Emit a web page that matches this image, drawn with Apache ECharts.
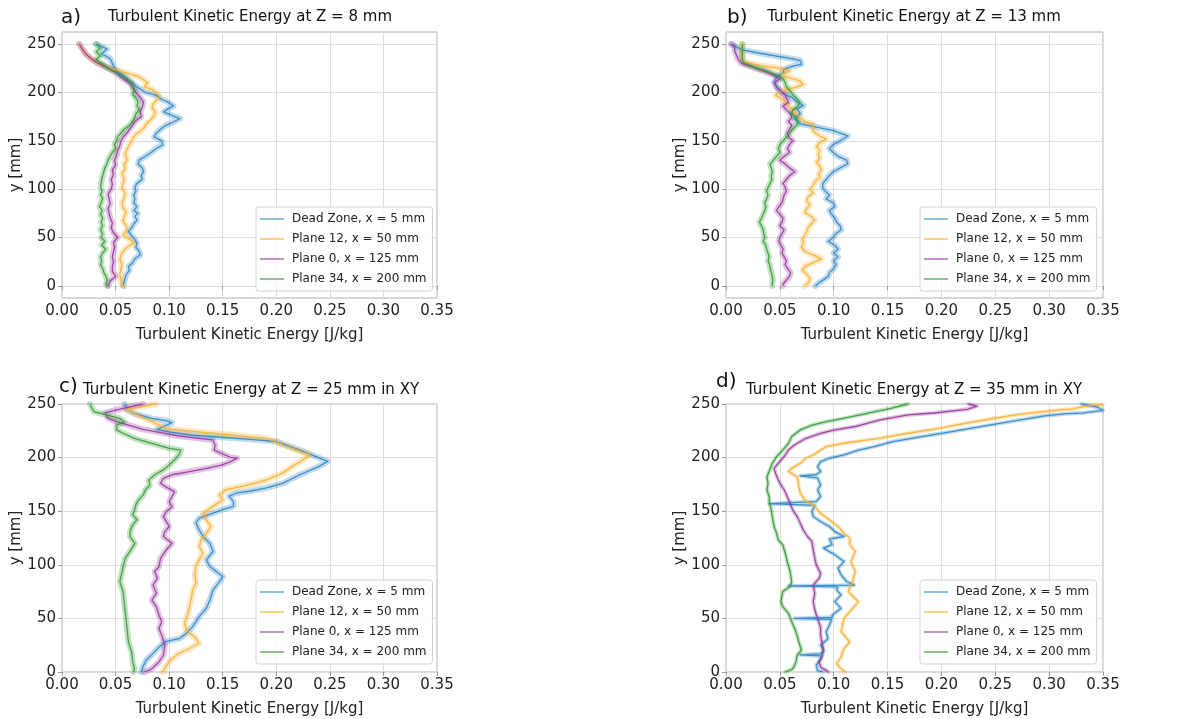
<!DOCTYPE html>
<html><head><meta charset="utf-8">
<script src="https://cdn.jsdelivr.net/npm/echarts@6/dist/echarts.min.js"></script>
<style>html,body{margin:0;padding:0;background:#fff}#c{width:1199px;height:719px}</style>
</head><body><div id="c"></div>
<script>
// ---------- DATA ----------
const seriesNames = ['Dead Zone, x = 5 mm', 'Plane 12, x = 50 mm', 'Plane 0, x = 125 mm', 'Plane 34, x = 200 mm'];
const panelLetters = ['a)', 'b)', 'c)', 'd)'];
const panelTitles = ['Turbulent Kinetic Energy at Z = 8 mm', 'Turbulent Kinetic Energy at Z = 13 mm',
  'Turbulent Kinetic Energy at Z = 25 mm in XY', 'Turbulent Kinetic Energy at Z = 35 mm in XY'];
const xAxisName = 'Turbulent Kinetic Energy [J/kg]';
const yAxisName = 'y [mm]';
const yTicks = [0, 50, 100, 150, 200, 250];

// each point: [TKE J/kg, y mm]
const aDead = [[0.032,250],[0.042,245],[0.037,240],[0.045,235],[0.047,230],[0.049,225],[0.054,220],[0.060,215],[0.065,210],[0.071,205],[0.078,200],[0.088,197],[0.093,193],[0.099,190],[0.104,186],[0.099,183],[0.095,180],[0.101,177],[0.110,173],[0.105,170],[0.097,166],[0.092,162],[0.088,158],[0.086,154],[0.093,150],[0.094,146],[0.088,142],[0.083,138],[0.078,134],[0.072,130],[0.071,126],[0.075,122],[0.076,118],[0.074,114],[0.075,110],[0.070,106],[0.068,102],[0.069,98],[0.067,94],[0.068,90],[0.067,86],[0.070,82],[0.067,78],[0.071,75],[0.068,72],[0.070,68],[0.067,64],[0.065,60],[0.062,56],[0.065,52],[0.068,48],[0.070,44],[0.069,40],[0.072,36],[0.073,32],[0.068,28],[0.066,24],[0.062,20],[0.063,16],[0.060,12],[0.059,8],[0.058,4],[0.057,0]];
const aPlane12 = [[0.016,250],[0.019,245],[0.022,240],[0.027,235],[0.033,230],[0.045,225],[0.058,221],[0.070,217],[0.075,214],[0.080,210],[0.077,206],[0.084,203],[0.088,200],[0.091,196],[0.088,192],[0.085,188],[0.084,184],[0.087,180],[0.086,176],[0.083,172],[0.080,169],[0.076,163],[0.072,159],[0.068,156],[0.065,150],[0.063,146],[0.061,142],[0.059,136],[0.061,130],[0.058,126],[0.059,121],[0.056,116],[0.058,111],[0.057,106],[0.056,101],[0.059,96],[0.058,91],[0.056,86],[0.057,81],[0.060,76],[0.058,72],[0.057,67],[0.060,62],[0.061,58],[0.057,53],[0.062,49],[0.067,45],[0.062,41],[0.058,37],[0.055,32],[0.054,27],[0.056,22],[0.055,17],[0.054,12],[0.055,7],[0.055,3],[0.058,0]];
const aPlane0 = [[0.016,250],[0.019,245],[0.022,240],[0.027,235],[0.034,230],[0.043,225],[0.051,220],[0.056,215],[0.060,212],[0.065,208],[0.066,205],[0.069,200],[0.073,195],[0.076,190],[0.075,185],[0.073,180],[0.074,175],[0.068,170],[0.065,165],[0.062,160],[0.058,155],[0.055,150],[0.054,145],[0.052,140],[0.051,135],[0.049,130],[0.050,125],[0.047,120],[0.048,115],[0.046,110],[0.047,105],[0.046,100],[0.043,95],[0.044,90],[0.045,85],[0.043,80],[0.044,75],[0.045,70],[0.047,65],[0.046,60],[0.048,55],[0.052,50],[0.048,45],[0.049,40],[0.048,35],[0.047,30],[0.048,25],[0.047,20],[0.047,15],[0.050,10],[0.045,5],[0.043,0]];
const aPlane34 = [[0.032,250],[0.0355,246],[0.032,242],[0.0355,238],[0.032,234],[0.037,230],[0.042,226],[0.049,222],[0.055,218],[0.060,214],[0.065,210],[0.066,206],[0.068,202],[0.066,198],[0.069,194],[0.071,190],[0.070,186],[0.072,182],[0.069,178],[0.068,174],[0.066,170],[0.063,166],[0.058,162],[0.055,158],[0.052,154],[0.051,150],[0.049,146],[0.050,142],[0.047,138],[0.045,134],[0.043,130],[0.042,126],[0.040,122],[0.039,118],[0.038,114],[0.037,110],[0.0365,106],[0.036,102],[0.0375,98],[0.036,94],[0.038,90],[0.0365,86],[0.035,82],[0.0375,78],[0.036,74],[0.038,70],[0.0365,66],[0.038,62],[0.036,58],[0.038,54],[0.0365,50],[0.040,46],[0.037,42],[0.041,38],[0.038,34],[0.036,30],[0.037,26],[0.036,22],[0.038,18],[0.039,14],[0.041,10],[0.042,6],[0.041,2],[0.042,0]];

const bDead = [[0.005,250],[0.015,244],[0.034,240],[0.061,235],[0.069,233],[0.070,229],[0.061,227],[0.053,223.5],[0.054,221],[0.047,216],[0.045,210.5],[0.047,205],[0.053,198.5],[0.061,195],[0.066,190],[0.072,186.5],[0.066,183],[0.069,178],[0.0635,172.7],[0.069,167.6],[0.085,164],[0.099,160.7],[0.113,155],[0.106,150],[0.0995,146],[0.096,142],[0.0995,138],[0.104,134],[0.112,130],[0.113,126],[0.106,122],[0.0995,118],[0.096,114],[0.093,110],[0.090,106],[0.0896,102],[0.092,98],[0.096,94],[0.093,90],[0.0995,86],[0.101,82],[0.096,78],[0.098,74],[0.101,70],[0.1026,66],[0.106,62],[0.107,58],[0.102,54],[0.0995,50],[0.095,46],[0.101,42],[0.104,38],[0.100,34],[0.104,30],[0.100,26],[0.102,22],[0.100,18],[0.096,14],[0.095,10],[0.090,6],[0.086,3],[0.083,0]];
const bPlane12 = [[0.0145,250],[0.0145,244],[0.015,238],[0.016,232],[0.0315,228],[0.050,225],[0.059,222],[0.0516,219],[0.056,216],[0.0686,212],[0.0717,208],[0.064,205],[0.056,203],[0.0485,200],[0.046,197],[0.0516,194],[0.055,190],[0.058,186],[0.062,182],[0.065,178],[0.0686,174],[0.073,170],[0.081,167],[0.081,160],[0.087,155],[0.093,152],[0.087,148],[0.084,144],[0.087,140],[0.0856,136],[0.087,132],[0.084,128],[0.087,124],[0.0887,120],[0.086,116],[0.087,112],[0.0825,108],[0.081,104],[0.078,100],[0.081,96],[0.076,92],[0.075,88],[0.078,84],[0.075,80],[0.073,76],[0.079,72],[0.0825,68],[0.079,64],[0.076,60],[0.075,56],[0.073,52],[0.071,48],[0.072,44],[0.070,40],[0.073,36],[0.081,32],[0.0887,28],[0.081,24],[0.073,20],[0.071,16],[0.075,12],[0.078,8],[0.077,4],[0.073,0]];
const bPlane0 = [[0.005,250],[0.008,247],[0.008,243],[0.010,238],[0.0114,234],[0.0145,230],[0.025,226],[0.035,222],[0.044,218],[0.050,214],[0.045,210],[0.047,206],[0.050,202],[0.055,198],[0.056,194],[0.058,190],[0.053,186],[0.056,182],[0.060,178],[0.061,174],[0.058,170],[0.061,166],[0.059,162],[0.057,158],[0.058,154],[0.062,150],[0.059,146],[0.057,142],[0.059,138],[0.054,134],[0.050,130],[0.055,126],[0.059,122],[0.064,118],[0.059,114],[0.056,110],[0.053,106],[0.055,102],[0.056,98],[0.054,94],[0.053,90],[0.052,86],[0.049,82],[0.047,78],[0.050,74],[0.053,70],[0.052,66],[0.050,62],[0.054,58],[0.052,54],[0.050,50],[0.049,46],[0.051,42],[0.053,38],[0.052,34],[0.054,30],[0.056,26],[0.055,22],[0.057,18],[0.060,14],[0.059,10],[0.056,6],[0.053,2],[0.053,0]];
const bPlane34 = [[0.0155,250],[0.015,244],[0.015,238],[0.0155,232],[0.0176,230],[0.027,226],[0.038,222],[0.047,218],[0.053,214],[0.055,210],[0.056,206],[0.059,202],[0.062,198],[0.0655,194],[0.0686,190],[0.067,186],[0.062,182],[0.061,178],[0.0655,174],[0.067,170],[0.0655,166],[0.062,162],[0.059,158],[0.056,154],[0.053,150],[0.050,146],[0.0485,142],[0.050,138],[0.047,134],[0.044,130],[0.041,126],[0.042,122],[0.043,118],[0.042,114],[0.0425,110],[0.041,106],[0.039,102],[0.0377,98],[0.039,94],[0.0377,90],[0.036,86],[0.037,82],[0.036,78],[0.0346,74],[0.033,70],[0.031,66],[0.033,62],[0.0346,58],[0.035,54],[0.036,50],[0.0346,46],[0.037,42],[0.0377,38],[0.039,34],[0.040,30],[0.039,26],[0.0405,22],[0.041,18],[0.042,14],[0.043,10],[0.0435,6],[0.043,2],[0.043,0]];

const cDead = [[0.0585,250],[0.061,244.4],[0.0676,241],[0.0838,236.6],[0.097,234.5],[0.1027,232.6],[0.0946,229],[0.089,226.4],[0.100,224],[0.1216,221],[0.1486,219],[0.1757,217],[0.200,215],[0.209,211.7],[0.222,207],[0.237,201],[0.248,196.5],[0.240,191.8],[0.222,184],[0.206,176],[0.190,171.6],[0.175,168.6],[0.163,167],[0.156,164],[0.160,159],[0.160,154.5],[0.150,151.4],[0.141,148.3],[0.128,143.5],[0.125,139],[0.128,132.6],[0.1316,126.4],[0.138,120],[0.141,112.4],[0.1347,104.6],[0.138,98.4],[0.150,89],[0.147,84.4],[0.141,76.6],[0.138,67.2],[0.1347,59.5],[0.128,51.7],[0.122,42.3],[0.116,36],[0.110,31.4],[0.097,28.3],[0.091,23.7],[0.085,17.4],[0.0787,11.2],[0.0756,5],[0.074,0]];
const cPlane12 = [[0.088,250],[0.060,245],[0.070,240],[0.082,234.6],[0.088,231.5],[0.097,227],[0.128,224],[0.160,221],[0.190,218],[0.200,215],[0.209,210.6],[0.222,206],[0.231,203],[0.225,198],[0.215,191.8],[0.206,185.5],[0.190,179],[0.175,174.7],[0.153,170],[0.147,165],[0.150,160.7],[0.141,154.5],[0.1316,148],[0.1347,142],[0.139,135.7],[0.1347,129.5],[0.130,123.3],[0.128,117],[0.1316,110.8],[0.128,104.6],[0.125,98.4],[0.124,90.6],[0.125,82.8],[0.122,76.6],[0.121,70.4],[0.119,61],[0.1176,54.8],[0.1145,45.5],[0.116,39],[0.125,31.4],[0.128,26.8],[0.116,20.5],[0.1067,15.9],[0.100,9.7],[0.0958,3.4],[0.094,0]];
const cPlane0 = [[0.0757,250],[0.057,246],[0.0405,242],[0.043,236.6],[0.051,233.5],[0.062,230.4],[0.0757,226.4],[0.092,223.3],[0.108,220.2],[0.127,218],[0.1405,216.5],[0.143,211.8],[0.142,207],[0.1486,204],[0.157,200.3],[0.1635,199.4],[0.157,196],[0.1486,193],[0.135,190],[0.119,187],[0.1027,184],[0.0946,180.7],[0.092,176],[0.0973,172.4],[0.105,168.3],[0.1027,163.7],[0.100,159],[0.1027,154],[0.0973,149.7],[0.0946,145],[0.0973,140.4],[0.100,135.7],[0.096,131],[0.0946,126.4],[0.1027,120],[0.0973,114],[0.092,106],[0.0905,98.4],[0.0865,93.75],[0.089,87.5],[0.085,81],[0.088,73.4],[0.0838,67],[0.088,61],[0.0905,53],[0.093,47],[0.0905,40.6],[0.093,34.4],[0.096,25],[0.0946,15.6],[0.0905,9.4],[0.0838,3],[0.077,0]];
const cPlane34 = [[0.026,250],[0.0297,243],[0.0405,240],[0.054,236.6],[0.058,233.5],[0.0514,230.4],[0.051,225.8],[0.057,222.7],[0.0676,218],[0.078,215],[0.089,211.8],[0.100,208.7],[0.111,207],[0.109,202.5],[0.105,197.8],[0.100,193],[0.0946,188.5],[0.0865,184],[0.081,179],[0.082,174.5],[0.078,170],[0.0757,165],[0.0716,160.6],[0.069,156],[0.0676,151],[0.066,146.6],[0.070,142],[0.066,137.3],[0.0635,131],[0.0635,126.4],[0.068,120],[0.0635,112.5],[0.059,106],[0.057,98.4],[0.0554,90.6],[0.054,84.4],[0.057,75],[0.058,65.6],[0.059,56],[0.060,47],[0.061,37.5],[0.062,28],[0.065,18.75],[0.066,9.4],[0.0676,3],[0.067,0]];

const dDead = [[0.33,250],[0.345,247],[0.35,244],[0.33,241.5],[0.316,241],[0.296,239],[0.2635,233.5],[0.2365,228.9],[0.2095,224.2],[0.182,219.6],[0.155,215],[0.1365,210],[0.123,207],[0.1095,202.5],[0.096,199.4],[0.0878,196.3],[0.085,191.6],[0.0878,187],[0.0838,184],[0.069,183],[0.085,181],[0.0878,174.5],[0.085,170],[0.0878,163.7],[0.0838,159],[0.040,157],[0.0824,155.5],[0.0797,149.7],[0.081,145],[0.0878,140.4],[0.096,135.7],[0.101,131],[0.1095,126.4],[0.096,124],[0.0986,118.75],[0.0905,115.6],[0.101,109.4],[0.1095,103],[0.104,96.9],[0.1068,90.6],[0.112,84.4],[0.119,81],[0.058,80.3],[0.104,79.5],[0.1027,76.6],[0.1068,71.9],[0.101,65.6],[0.1068,59.4],[0.0986,53],[0.0986,51],[0.0635,50],[0.098,49],[0.096,43.75],[0.093,37.5],[0.0946,31],[0.0878,25],[0.0905,20.3],[0.088,17],[0.069,16],[0.088,15],[0.0878,12.5],[0.0838,6.25],[0.085,1.5],[0.09,0]];
const dPlane12 = [[0.35,249.5],[0.335,248],[0.322,245.5],[0.30,243.5],[0.27,240],[0.245,236],[0.222,232],[0.196,227],[0.169,222.7],[0.142,218],[0.1095,213.4],[0.093,210.2],[0.0878,207],[0.082,203],[0.0743,199.4],[0.069,194.7],[0.061,190],[0.058,187],[0.066,182],[0.067,178],[0.0676,173],[0.069,166.8],[0.073,160.6],[0.0824,154.3],[0.0878,148],[0.096,141.9],[0.104,135.7],[0.1095,129.5],[0.115,124.8],[0.115,118.75],[0.120,112.5],[0.116,103],[0.120,93.75],[0.1176,84.4],[0.1135,75],[0.123,65.6],[0.1176,59.4],[0.1095,50],[0.1068,37.5],[0.115,28],[0.1095,21.9],[0.1068,14],[0.1027,7.8],[0.1068,3],[0.111,0]];
const dPlane0 = [[0.225,250],[0.233,248],[0.224,245],[0.193,241.6],[0.169,239.8],[0.142,235],[0.120,229],[0.101,225.8],[0.0878,222.7],[0.0743,218],[0.0635,211.8],[0.058,207],[0.054,201],[0.0486,194.7],[0.0446,190],[0.046,185.4],[0.0486,179],[0.051,174.5],[0.054,170],[0.0568,163.7],[0.0595,157.5],[0.062,151],[0.066,145],[0.069,138.8],[0.0716,132.6],[0.0757,126.4],[0.0797,121.9],[0.081,114],[0.0824,106],[0.0838,100],[0.0878,92],[0.0865,87.5],[0.081,81],[0.0824,73.4],[0.081,65.6],[0.0824,57.8],[0.085,50],[0.0878,42],[0.0878,34.4],[0.089,28],[0.0905,20.3],[0.089,14],[0.0865,9.4],[0.0878,4.7],[0.093,1.5],[0.095,0]];
const dPlane34 = [[0.169,250],[0.153,246],[0.131,241.3],[0.109,236.6],[0.093,233.5],[0.080,230.4],[0.069,225.8],[0.061,219.6],[0.058,213.4],[0.0527,207],[0.047,201],[0.043,194.7],[0.0405,188.5],[0.038,182],[0.039,176],[0.038,170],[0.040,163.7],[0.0405,157.5],[0.042,151],[0.043,145],[0.0446,135.7],[0.047,129.5],[0.0486,123],[0.0527,118.75],[0.0554,109.4],[0.0568,103],[0.0595,93.75],[0.061,84.4],[0.0595,79.7],[0.0527,75],[0.051,65.6],[0.0527,61],[0.058,54.7],[0.061,47],[0.065,37.5],[0.0676,28],[0.070,20.3],[0.066,15.6],[0.065,9.4],[0.062,3],[0.055,0]];

const panelData = [
  [aDead, aPlane12, aPlane0, aPlane34],
  [bDead, bPlane12, bPlane0, bPlane34],
  [cDead, cPlane12, cPlane0, cPlane34],
  [dDead, dPlane12, dPlane0, dPlane34]
];

// ---------- STYLE / LAYOUT ----------
const F = 'DejaVu Sans';
const colors = ['#2f86c4', '#f7b030', '#973b9d', '#339c35'];
const legendColors = ['#74aed8', '#f9c860', '#b276b6', '#70b870'];
const layout = [
  {left: 62, top: 32, width: 375, height: 266, padded: true, letter: [61, 8], title: [250, 10], legend: [256, 207], band: 6},
  {left: 726, top: 32, width: 377, height: 266, padded: true, letter: [727, 8], title: [914, 10], legend: [920, 207], band: 6},
  {left: 62, top: 404, width: 375, height: 268, padded: false, letter: [59, 377], title: [251, 383], legend: [256, 580], band: 6},
  {left: 726, top: 404, width: 377, height: 268, padded: false, letter: [716, 372], title: [914, 383], legend: [920, 580], band: 4}
];

const grids = [], xAxes = [], yAxes = [], series = [], titles = [], legends = [];
layout.forEach((L, p) => {
  grids.push({left: L.left, top: L.top, width: L.width, height: L.height, show: true,
    borderColor: '#b0b0b0', borderWidth: 1, backgroundColor: 'transparent', containLabel: false, outerBoundsMode: 'none'});
  xAxes.push({gridIndex: p, type: 'value', min: 0, max: 0.35, interval: 0.05,
    name: xAxisName, nameLocation: 'middle', nameGap: 30, nameMoveOverlap: false,
    nameTextStyle: {fontFamily: F, fontSize: 15, color: '#222'},
    axisLine: {show: false}, axisTick: {show: true, length: 4, lineStyle: {color: '#999'}},
    axisLabel: {fontFamily: F, fontSize: 15, color: '#222', margin: 6, formatter: v => v.toFixed(2)},
    splitLine: {show: true, lineStyle: {color: '#dddddd', width: 1}}});
  const ya = {gridIndex: p, type: 'value',
    name: yAxisName, nameLocation: 'middle', nameGap: 38, nameMoveOverlap: false,
    nameTextStyle: {fontFamily: F, fontSize: 15, color: '#222'},
    axisLine: {show: false}, axisTick: {show: true, length: 4, lineStyle: {color: '#999'}},
    axisLabel: {fontFamily: F, fontSize: 15, color: '#222', margin: 6},
    splitLine: {show: true, lineStyle: {color: '#dddddd', width: 1}}};
  if (L.padded) {
    ya.min = -12.5; ya.max = 262.5;
    ya.axisLabel.customValues = yTicks;
    ya.axisTick.customValues = yTicks;
  } else {
    ya.min = 0; ya.max = 250; ya.interval = 50;
  }
  yAxes.push(ya);
  titles.push({text: panelLetters[p], left: L.letter[0], top: L.letter[1], padding: 0,
    textStyle: {fontFamily: F, fontSize: 20, fontWeight: 'normal', color: '#111'}});
  titles.push({text: panelTitles[p], left: L.title[0], top: L.title[1], textAlign: 'center', padding: 0,
    textStyle: {fontFamily: F, fontSize: 15, fontWeight: 'normal', color: '#111'}});
  legends.push({show: true, orient: 'vertical', left: L.legend[0], top: L.legend[1],
    data: seriesNames.map((n, i) => ({name: n, icon: 'rect', itemStyle: {color: legendColors[i], borderWidth: 0}})),
    itemWidth: 24, itemHeight: 1.6, itemGap: 6,
    padding: [5, 6, 5, 4], backgroundColor: 'rgba(255,255,255,0.85)', borderColor: '#d4d4d4',
    borderWidth: 1, borderRadius: 3, selectedMode: false,
    textStyle: {fontFamily: F, fontSize: 12, color: '#222', padding: [0, 0, 0, 3], lineHeight: 14}});
  panelData[p].forEach((pts, s) => {
    series.push({name: 'band' + p + s, type: 'line', xAxisIndex: p, yAxisIndex: p, data: pts,
      showSymbol: false, symbol: 'none', silent: true, z: 1, animation: false,
      lineStyle: {color: colors[s], width: L.band, opacity: 0.3, join: 'round', cap: 'round'},
      emphasis: {disabled: true}});
  });
  panelData[p].forEach((pts, s) => {
    series.push({name: seriesNames[s], type: 'line', xAxisIndex: p, yAxisIndex: p, data: pts,
      showSymbol: false, symbol: 'none', silent: true, z: 2, animation: false,
      lineStyle: {color: colors[s], width: 1.3, opacity: 0.9, join: 'round'},
      itemStyle: {color: colors[s]},
      emphasis: {disabled: true}});
  });
});

const chart = echarts.init(document.getElementById('c'), null, {renderer: 'canvas'});
chart.setOption({
  animation: false,
  backgroundColor: '#ffffff',
  color: colors,
  title: titles,
  legend: legends,
  grid: grids,
  xAxis: xAxes,
  yAxis: yAxes,
  series: series
});
</script>
</body></html>
